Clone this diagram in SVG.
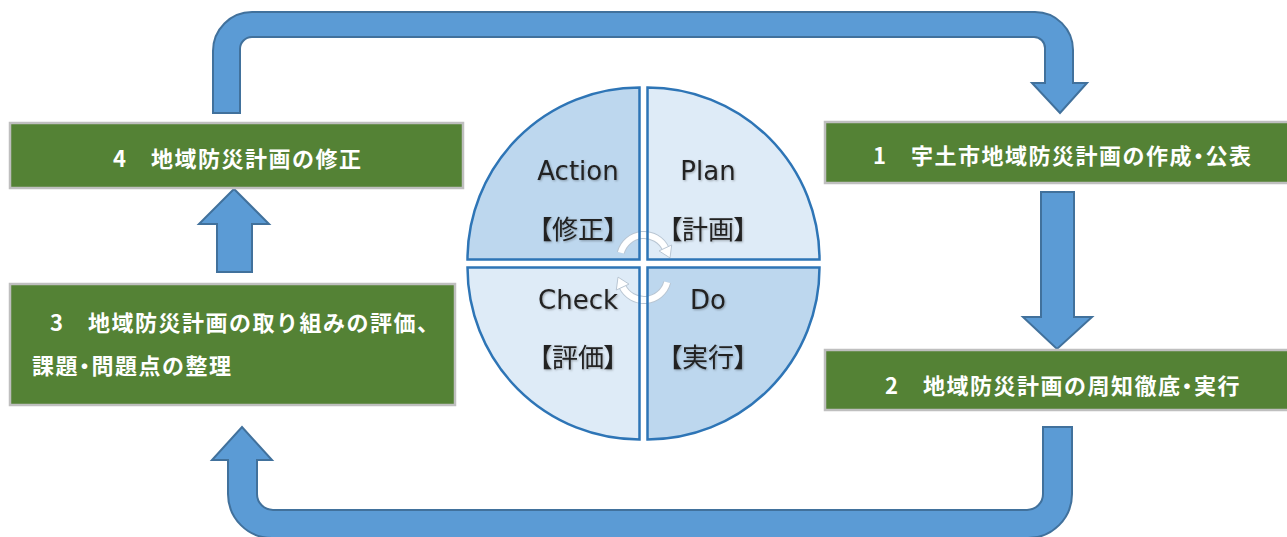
<svg xmlns="http://www.w3.org/2000/svg" width="1287" height="537" viewBox="0 0 1287 537">
<style>
.box{fill:#548235;stroke:#bfbfbf;stroke-width:2.5}
.bt{font-family:"Noto Sans CJK JP","Noto Sans CJK SC",sans-serif;font-weight:bold;font-size:22px;letter-spacing:1.5px;fill:#ffffff}
.palt{font-feature-settings:"palt"}
.arr{fill:#5b9bd5;stroke:#41719c;stroke-width:2;stroke-linejoin:miter}
.qd{fill:#bdd7ee}
.ql{fill:#deebf7}
.qs{fill:none;stroke:#2e75b6;stroke-width:2.5}
.en{font-family:"DejaVu Sans",sans-serif;font-size:26px;fill:#222222;text-anchor:middle}
.jp{font-family:"Noto Sans CJK JP","Noto Sans CJK SC",sans-serif;font-size:26px;fill:#222222;text-anchor:middle;font-feature-settings:"palt"}
.ringo{fill:none;stroke:#b9c6d3;stroke-width:8}
.ringi{fill:none;stroke:#ffffff;stroke-width:6}
.rh{fill:#ffffff;stroke:#b9c6d3;stroke-width:1}
</style>
<defs>
<filter id="sh" x="-10%" y="-10%" width="130%" height="140%">
<feDropShadow dx="1" dy="1" stdDeviation="0.8" flood-color="#000" flood-opacity="0.3"/>
</filter>
<g id="ring">
<path class="ringo" d="M 620.8 252.8 A 24 24 0 0 1 665.75 248.86"/>
<path class="ringi" d="M 620.8 252.8 A 24 24 0 0 1 665.75 248.86"/>
<polygon class="rh" points="659,250.9 671.7,245 670,257.9"/>
</g>
</defs>

<g id="connectors">
<path class="arr" d="M 213 113 L 213 51 A 39 39 0 0 1 252 12 L 1035 12 A 38 38 0 0 1 1073 50 L 1073 83 L 1087 83 L 1060 113 L 1032 83 L 1045 83 L 1045 48 A 11 11 0 0 0 1034 37 L 252 37 A 12 12 0 0 0 240 49 L 240 113 Z"/>
<polygon class="arr" points="1041,192 1074,192 1074,317 1092,317 1057,349 1023,317 1041,317"/>
<path class="arr" d="M 1043 427 L 1072 427 L 1072 494 A 44 44 0 0 1 1028 538 L 272 538 A 44 44 0 0 1 228 494 L 228 460 L 212 460 L 242 427 L 272 460 L 257 460 L 257 494 A 16 16 0 0 0 273 510 L 1027 510 A 16 16 0 0 0 1043 494 Z"/>
<polygon class="arr" points="217,272 217,224 199,224 234,189 269,224 252,224 252,272"/>
</g>

<g id="step1">
<rect class="box" x="825" y="122" width="465" height="61"/>
<text class="bt" x="873" y="163.5">1　宇土市地域防災計画の作成<tspan class="palt">・</tspan>公表</text>
</g>
<g id="step2">
<rect class="box" x="825" y="350" width="465" height="60"/>
<text class="bt" x="885" y="393.5">2　地域防災計画の周知徹底<tspan class="palt">・</tspan>実行</text>
</g>
<g id="step3">
<rect class="box" x="10" y="284" width="445" height="121"/>
<text class="bt" x="50" y="330.5">3　地域防災計画の取り組みの評価、</text>
<text class="bt" x="32" y="373.5">課題<tspan class="palt">・</tspan>問題点の整理</text>
</g>
<g id="step4">
<rect class="box" x="10" y="123" width="453" height="65"/>
<text class="bt" x="113" y="167">4　地域防災計画の修正</text>
</g>

<g id="pdca">
<path class="qd" d="M 639.5 259.5 L 639.5 87.5 A 172 172 0 0 0 467.5 259.5 Z"/>
<path class="ql" d="M 647.5 259.5 L 647.5 87.5 A 172 172 0 0 1 819.5 259.5 Z"/>
<path class="ql" d="M 639.5 267.5 L 467.5 267.5 A 172 172 0 0 0 639.5 439.5 Z"/>
<path class="qd" d="M 647.5 267.5 L 819.5 267.5 A 172 172 0 0 1 647.5 439.5 Z"/>
<use href="#ring"/>
<use href="#ring" transform="rotate(180 644 267.5)"/>
<path class="qs" d="M 639.5 259.5 L 639.5 87.5 A 172 172 0 0 0 467.5 259.5 Z"/>
<path class="qs" d="M 647.5 259.5 L 647.5 87.5 A 172 172 0 0 1 819.5 259.5 Z"/>
<path class="qs" d="M 639.5 267.5 L 467.5 267.5 A 172 172 0 0 0 639.5 439.5 Z"/>
<path class="qs" d="M 647.5 267.5 L 819.5 267.5 A 172 172 0 0 1 647.5 439.5 Z"/>
<g filter="url(#sh)">
<text class="en" x="578" y="180">Action</text>
<text class="en" x="708" y="180">Plan</text>
<text class="en" x="578" y="309">Check</text>
<text class="en" x="708" y="309">Do</text>
<text class="jp" x="578" y="239">【修正】</text>
<text class="jp" x="708" y="239">【計画】</text>
<text class="jp" x="578" y="367">【評価】</text>
<text class="jp" x="708" y="367">【実行】</text>
</g>
</g>
</svg>
